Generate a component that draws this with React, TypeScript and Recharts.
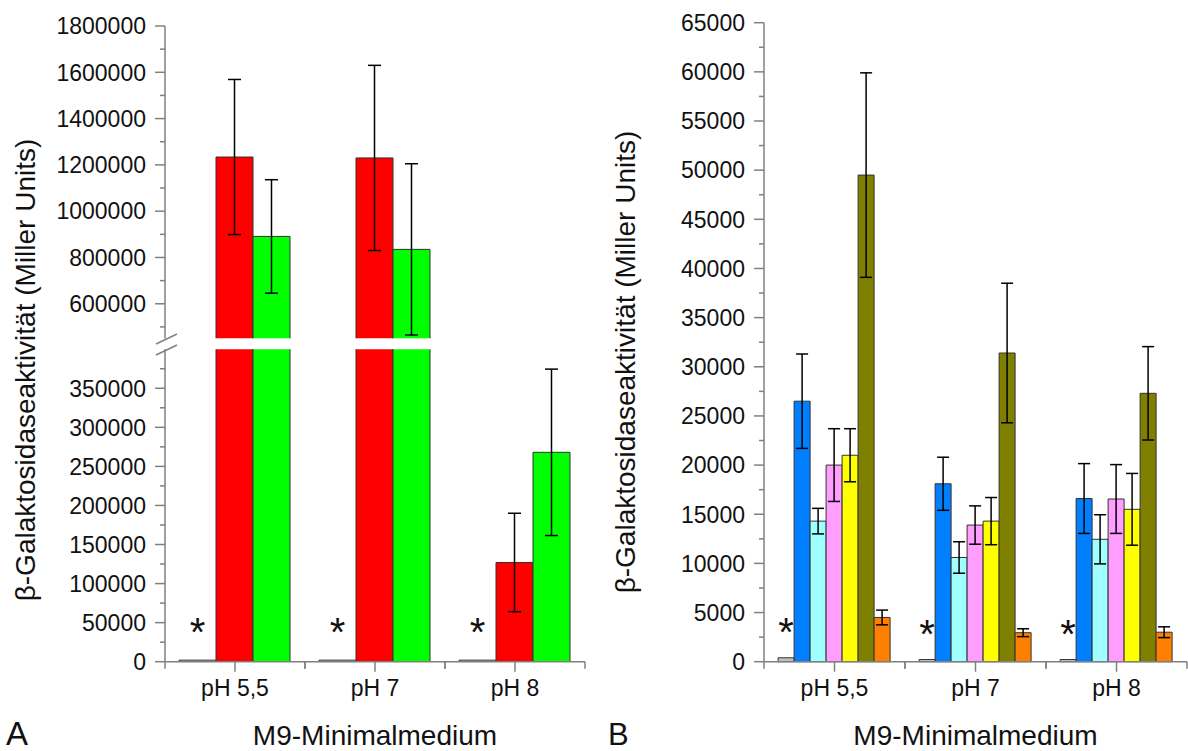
import React from "react";
import { Bar, BarChart, ErrorBar, LabelList, XAxis, YAxis } from "recharts";

const categories = ["pH 5,5", "pH 7", "pH 8"];
const marks = ["*", "*", "*"];

// Panel A (broken y axis)
const controlA = [2000, 2000, 2000];
const redA = [1234000, 1230000, 127000];
const redErrA = [335000, 400000, 63000];
const greenA = [891000, 835000, 268000];
const greenErrA = [245000, 370000, 106500];

const lowerDomainA = [0, 400000];
const upperDomainA = [450000, 1800000];
const lowerMajorA = [0, 50000, 100000, 150000, 200000, 250000, 300000, 350000];
const lowerMinorA = [25000, 75000, 125000, 175000, 225000, 275000, 325000, 375000];
const upperMajorA = [600000, 800000, 1000000, 1200000, 1400000, 1600000, 1800000];
const upperMinorA = [500000, 700000, 900000, 1100000, 1300000, 1500000, 1700000];

// Panel B
const controlB = [400, 220, 220];
const blueB = [26500, 18100, 16600];
const blueErrB = [4800, 2700, 3550];
const cyanB = [14300, 10600, 12450];
const cyanErrB = [1300, 1600, 2500];
const pinkB = [20000, 13900, 16550];
const pinkErrB = [3700, 1950, 3500];
const yellowB = [21000, 14300, 15500];
const yellowErrB = [2700, 2400, 3650];
const oliveB = [49500, 31400, 27300];
const oliveErrB = [10400, 7100, 4750];
const orangeB = [4500, 2950, 3000];
const orangeErrB = [750, 400, 550];

const majorB = [0, 5000, 10000, 15000, 20000, 25000, 30000, 35000, 40000, 45000, 50000, 55000, 60000, 65000];
const minorB = [2500, 7500, 12500, 17500, 22500, 27500, 32500, 37500, 42500, 47500, 52500, 57500, 62500];

const yTitle = "β-Galaktosidaseaktivität (Miller Units)";
const xTitle = "M9-Minimalmedium";

const AXIS = "#808080";
const OUTLINE = "#333";
const FONT = '"Liberation Sans", Arial, sans-serif';
const TICK = 10;
const MINOR = 5;
const Y_MARGIN = 9;
const X_MARGIN = 8;

const inRange = (v: number, d: number[]) => v >= d[0] && v <= d[1];

const rowsLowerA = categories.map((cat, i) => ({
  cat,
  mark: marks[i],
  control: controlA[i],
  red: redA[i],
  green: greenA[i],
  redErr: inRange(redA[i], lowerDomainA) ? redErrA[i] : null,
  greenErr: inRange(greenA[i], lowerDomainA) ? greenErrA[i] : null,
}));

const rowsUpperA = categories.map((cat, i) => ({
  cat,
  control: null,
  red: redA[i] > upperDomainA[0] ? redA[i] : null,
  green: greenA[i] > upperDomainA[0] ? greenA[i] : null,
  redErr: redA[i] > upperDomainA[0] ? redErrA[i] : null,
  greenErr: greenA[i] > upperDomainA[0] ? greenErrA[i] : null,
}));

const rowsB = categories.map((cat, i) => ({
  cat,
  mark: marks[i],
  control: controlB[i],
  blue: blueB[i],
  blueErr: blueErrB[i],
  cyan: cyanB[i],
  cyanErr: cyanErrB[i],
  pink: pinkB[i],
  pinkErr: pinkErrB[i],
  yellow: yellowB[i],
  yellowErr: yellowErrB[i],
  olive: oliveB[i],
  oliveErr: oliveErrB[i],
  orange: orangeB[i],
  orangeErr: orangeErrB[i],
}));

function YTick(props: any) {
  const { x, y, payload, majors } = props;
  const major = majors.includes(payload.value);
  const ax = x + TICK + Y_MARGIN;
  return (
    <g>
      <line x1={ax - (major ? TICK : MINOR)} x2={ax} y1={y} y2={y} stroke={AXIS} strokeWidth={1.5} />
      {major && (
        <text x={x} y={y} dy="0.36em" textAnchor="end" fontSize={23} fill="#111">
          {String(payload.value)}
        </text>
      )}
    </g>
  );
}

function XTick(props: any) {
  const { x, y, payload, half } = props;
  const ay = y - TICK - X_MARGIN;
  return (
    <g>
      <line x1={x - half} x2={x - half} y1={ay} y2={ay + 7} stroke={AXIS} strokeWidth={1.5} />
      <line x1={x + half} x2={x + half} y1={ay} y2={ay + 7} stroke={AXIS} strokeWidth={1.5} />
      <text x={x} y={y} dy="0.71em" textAnchor="middle" fontSize={23} fill="#111">
        {payload.value}
      </text>
    </g>
  );
}

// bar outline without the bottom edge, so the broken axis looks open
function OpenBar(props: any) {
  const { x, y, width, height, fill } = props;
  if (!height || height <= 0) return null;
  return (
    <g>
      <rect x={x} y={y} width={width} height={height} fill={fill} />
      <path
        d={`M${x},${y + height} L${x},${y} L${x + width},${y} L${x + width},${y + height}`}
        fill="none"
        stroke={OUTLINE}
        strokeWidth={1}
      />
    </g>
  );
}

const errProps = { stroke: "#000", strokeWidth: 1.5 };

export default function App() {
  const halfA = (600 - 165 - 15) / categories.length / 2;
  const halfB = (588 - 164 - 1) / categories.length / 2;

  return (
    <div
      style={{
        position: "absolute",
        left: 0,
        top: 0,
        width: 1188,
        height: 751,
        background: "#fff",
        fontFamily: FONT,
        color: "#111",
      }}
    >
      {/* Panel A, upper segment */}
      <div style={{ position: "absolute", left: 0, top: 0 }}>
        <BarChart
          width={600}
          height={339}
          data={rowsUpperA}
          margin={{ top: 26, right: 15, left: 0, bottom: 0.5 }}
          barCategoryGap="10%"
          barGap={0}
        >
          <XAxis dataKey="cat" hide />
          <YAxis
            width={165}
            domain={upperDomainA}
            allowDataOverflow
            ticks={[...upperMajorA, ...upperMinorA]}
            interval={0}
            tickLine={false}
            tickSize={TICK}
            tickMargin={Y_MARGIN}
            axisLine={{ stroke: AXIS, strokeWidth: 1.5 }}
            tick={(p: any) => <YTick {...p} majors={upperMajorA} />}
          />
          <Bar dataKey="control" fill="#c0c0c0" stroke={OUTLINE} isAnimationActive={false} />
          <Bar dataKey="red" fill="#ff0000" shape={OpenBar} isAnimationActive={false}>
            <ErrorBar dataKey="redErr" width={6.5} {...errProps} />
          </Bar>
          <Bar dataKey="green" fill="#00ff00" shape={OpenBar} isAnimationActive={false}>
            <ErrorBar dataKey="greenErr" width={6.5} {...errProps} />
          </Bar>
        </BarChart>
      </div>

      {/* Panel A, lower segment */}
      <div style={{ position: "absolute", left: 0, top: 330 }}>
        <BarChart
          width={600}
          height={421}
          data={rowsLowerA}
          margin={{ top: 19.2, right: 15, left: 0, bottom: 0 }}
          barCategoryGap="10%"
          barGap={0}
        >
          <XAxis
            dataKey="cat"
            height={89.3}
            interval={0}
            tickSize={TICK}
            tickMargin={X_MARGIN}
            tickLine={{ stroke: AXIS, strokeWidth: 1.5 }}
            axisLine={{ stroke: AXIS, strokeWidth: 1.5 }}
            tick={(p: any) => <XTick {...p} half={halfA} />}
            label={{ value: xTitle, position: "insideBottom", offset: 6, fontSize: 28, fill: "#111" }}
          />
          <YAxis
            width={165}
            domain={lowerDomainA}
            allowDataOverflow
            ticks={[...lowerMajorA, ...lowerMinorA]}
            interval={0}
            tickLine={false}
            tickSize={TICK}
            tickMargin={Y_MARGIN}
            axisLine={{ stroke: AXIS, strokeWidth: 1.5 }}
            tick={(p: any) => <YTick {...p} majors={lowerMajorA} />}
          />
          <Bar dataKey="control" fill="#c0c0c0" stroke={OUTLINE} isAnimationActive={false}>
            <LabelList dataKey="mark" position="top" offset={14} fontSize={40} fill="#111" />
          </Bar>
          <Bar dataKey="red" fill="#ff0000" stroke={OUTLINE} isAnimationActive={false}>
            <ErrorBar dataKey="redErr" width={6.5} {...errProps} />
          </Bar>
          <Bar dataKey="green" fill="#00ff00" stroke={OUTLINE} isAnimationActive={false}>
            <ErrorBar dataKey="greenErr" width={6.5} {...errProps} />
          </Bar>
        </BarChart>
      </div>

      {/* Panel B */}
      <div style={{ position: "absolute", left: 600, top: 0 }}>
        <BarChart
          width={588}
          height={751}
          data={rowsB}
          margin={{ top: 22.7, right: 1, left: 0, bottom: 0 }}
          barCategoryGap="10%"
          barGap={0}
        >
          <XAxis
            dataKey="cat"
            height={89.3}
            interval={0}
            tickSize={TICK}
            tickMargin={X_MARGIN}
            tickLine={{ stroke: AXIS, strokeWidth: 1.5 }}
            axisLine={{ stroke: AXIS, strokeWidth: 1.5 }}
            tick={(p: any) => <XTick {...p} half={halfB} />}
            label={{ value: xTitle, position: "insideBottom", offset: 6, fontSize: 28, fill: "#111" }}
          />
          <YAxis
            width={164}
            domain={[0, 65000]}
            ticks={[...majorB, ...minorB]}
            interval={0}
            tickLine={false}
            tickSize={TICK}
            tickMargin={Y_MARGIN}
            axisLine={{ stroke: AXIS, strokeWidth: 1.5 }}
            tick={(p: any) => <YTick {...p} majors={majorB} />}
          />
          <Bar dataKey="control" fill="#c0c0c0" stroke={OUTLINE} isAnimationActive={false}>
            <LabelList dataKey="mark" position="top" offset={12} fontSize={40} fill="#111" />
          </Bar>
          <Bar dataKey="blue" fill="#0080ff" stroke={OUTLINE} isAnimationActive={false}>
            <ErrorBar dataKey="blueErr" width={6} {...errProps} />
          </Bar>
          <Bar dataKey="cyan" fill="#a0ffff" stroke={OUTLINE} isAnimationActive={false}>
            <ErrorBar dataKey="cyanErr" width={6} {...errProps} />
          </Bar>
          <Bar dataKey="pink" fill="#ff9eff" stroke={OUTLINE} isAnimationActive={false}>
            <ErrorBar dataKey="pinkErr" width={6} {...errProps} />
          </Bar>
          <Bar dataKey="yellow" fill="#ffff00" stroke={OUTLINE} isAnimationActive={false}>
            <ErrorBar dataKey="yellowErr" width={6} {...errProps} />
          </Bar>
          <Bar dataKey="olive" fill="#808000" stroke={OUTLINE} isAnimationActive={false}>
            <ErrorBar dataKey="oliveErr" width={6} {...errProps} />
          </Bar>
          <Bar dataKey="orange" fill="#ff8000" stroke={OUTLINE} isAnimationActive={false}>
            <ErrorBar dataKey="orangeErr" width={6} {...errProps} />
          </Bar>
        </BarChart>
      </div>

      {/* axis titles, break marks, panel letters */}
      <svg
        width={1188}
        height={751}
        style={{ position: "absolute", left: 0, top: 0, pointerEvents: "none" }}
      >
        <text
          x={25}
          y={370}
          transform="rotate(-90 25 370)"
          textAnchor="middle"
          dominantBaseline="central"
          fontSize={28}
          fill="#111"
        >
          {yTitle}
        </text>
        <text
          x={625}
          y={362}
          transform="rotate(-90 625 362)"
          textAnchor="middle"
          dominantBaseline="central"
          fontSize={28}
          fill="#111"
        >
          {yTitle}
        </text>
        <line x1={156} y1={344} x2={177} y2={334} stroke={AXIS} strokeWidth={1.5} />
        <line x1={156} y1={355} x2={177} y2={345} stroke={AXIS} strokeWidth={1.5} />
        <text x={6} y={745} fontSize={33} fill="#111">A</text>
        <text x={608} y={745} fontSize={31} fill="#111">B</text>
      </svg>
    </div>
  );
}
